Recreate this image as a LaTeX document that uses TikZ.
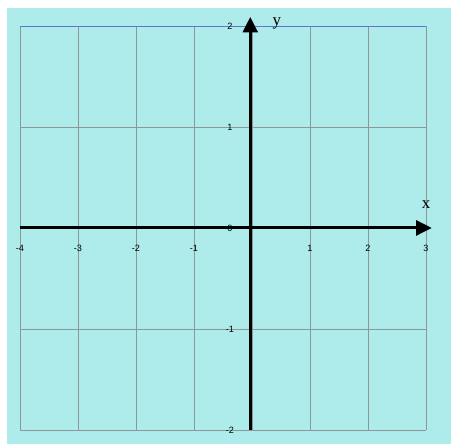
\documentclass[tikz,border=0pt]{standalone}
\usepackage{fontspec}
\setmainfont{Liberation Serif}
\newfontfamily\ticksfont{Liberation Sans}
\usetikzlibrary{arrows.meta}

\definecolor{bgcyan}{RGB}{174,236,236}
\definecolor{gridgray}{RGB}{140,152,152}
\definecolor{topblue}{RGB}{96,118,200}

\tikzset{
  axisline/.style={line width=2.2pt, -{Triangle[length=3.9mm, width=3.7mm]}},
  gridline/.style={gridgray, line width=0.5pt},
  ticklabel/.style={font=\ticksfont\fontsize{6.5}{7}\selectfont, inner sep=0pt},
  axislabel/.style={font=\fontsize{12}{12}\selectfont, inner sep=0pt}
}

\begin{document}
\begin{tikzpicture}[x=1.45cm, y=2.525cm]
  \useasboundingbox (-4.345,-2.139) rectangle (3.431,2.257);
  \fill[white] (-4.345,-2.139) rectangle (3.431,2.257);
  \fill[bgcyan] (-4.224,-2.139) rectangle (3.431,2.178);

  % grid
  \foreach \i in {-4,...,3}
    \draw[gridline] (\i,-2) -- (\i,2);
  \foreach \j in {-2,...,1}
    \draw[gridline] (-4,\j) -- (3,\j);
  \draw[topblue, line width=0.6pt] (-4,2) -- (3,2);

  % axes
  \coordinate (Xs) at (-4, 0);
  \coordinate (Xe) at (3.1, 0);
  \coordinate (Ys) at (-0.03, -2);
  \coordinate (Ye) at (-0.03, 2.09);
  \draw[axisline] (Xs) -- (Xe);
  \draw[axisline] (Ys) -- (Ye);

  \node[axislabel] (xlab) at (3.0, 0.23) {x};
  \node[axislabel] (ylab) at (0.43, 2.02) {y};

  % tick labels
  \foreach \i in {-4,-3,-2,-1,1,2,3}
    \node[ticklabel] (tx\i) at (\i, -0.2) {\i};
  \foreach \j in {-2,-1,0,1,2}
    \node[ticklabel] (ty\j) at (-0.38, \j) {\j};
\end{tikzpicture}
\end{document}
